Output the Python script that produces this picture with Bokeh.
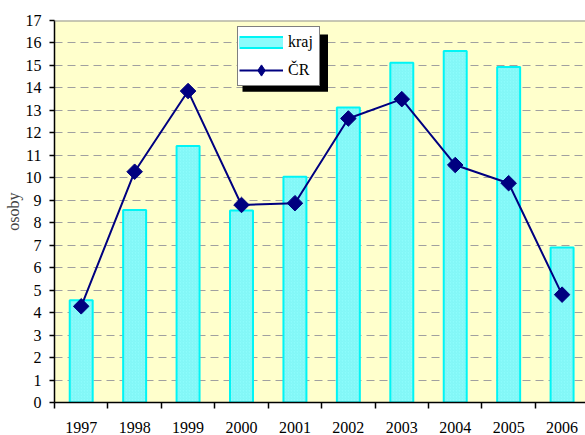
import numpy as np
from bokeh.plotting import figure
from bokeh.models import Range1d, FixedTicker, Span, Legend, LegendItem
from bokeh.embed import file_html
from bokeh.resources import INLINE

years = ["1997", "1998", "1999", "2000", "2001", "2002", "2003", "2004", "2005", "2006"]
kraj = [4.55, 8.57, 11.41, 8.55, 10.05, 13.13, 15.12, 15.64, 14.93, 6.90]
cr = [4.28, 10.27, 13.86, 8.79, 8.87, 12.64, 13.50, 10.57, 9.76, 4.80]
y_ticks = list(range(0, 18))

xs = [i + 0.5 for i in range(len(years))]

FONT = "Liberation Serif"
BAR_FILL = "#8CFCFC"
BAR_LINE = "#00F5F5"
NAVY = "#000080"

W, H = 585, 435
BL, BT, BB = 54, 20, 32
FW, FH = W - BL, H - BT - BB
XMAX = FW / 53.43

p = figure(width=W, height=H, output_backend="svg", toolbar_location=None,
           x_range=Range1d(0, XMAX), y_range=Range1d(0, 17),
           min_border_left=BL, min_border_right=0, min_border_top=BT, min_border_bottom=BB)
p.background_fill_color = "#FFFFCC"
p.border_fill_color = "white"
p.outline_line_color = None

bars = p.vbar(x=xs, top=kraj, width=0.43, bottom=0,
              fill_color=BAR_FILL, line_color=BAR_LINE, line_width=2,
              hatch_pattern="right_diagonal_line", hatch_color="#5FE3E3",
              hatch_scale=3, hatch_weight=0.6, hatch_alpha=0.5)
ln = p.line(xs, cr, line_color=NAVY, line_width=2)
mk = p.scatter(xs, cr, marker="square", angle=np.pi / 4, size=11,
               fill_color=NAVY, line_color=NAVY)

# legend-only proxies (hidden in the plot, drawn as legend swatches)
kraj_sw_outer = p.line(xs, kraj, line_color=BAR_LINE, line_width=13, line_cap="butt", visible=False)
kraj_sw_inner = p.line(xs, kraj, line_color=BAR_FILL, line_width=9, line_cap="butt", visible=False)
cr_sw_marker = p.scatter(xs, cr, marker="diamond", size=11, fill_color=NAVY,
                         line_color=NAVY, visible=False)

# grid
p.xgrid.grid_line_color = None
p.ygrid.ticker = FixedTicker(ticks=y_ticks[1:-1])
p.ygrid.grid_line_color = "#A0A0A0"
p.ygrid.grid_line_dash = "8 5"
p.ygrid.grid_line_width = 1
p.add_layout(Span(location=17, dimension="width", line_color="#909090", line_width=2))

# y axis
p.yaxis.ticker = FixedTicker(ticks=y_ticks)
p.yaxis.axis_label = "osoby"
p.yaxis.axis_label_text_font = FONT
p.yaxis.axis_label_text_font_style = "normal"
p.yaxis.axis_label_text_font_size = "16px"
p.yaxis.axis_label_standoff = 1
p.yaxis.major_label_text_font = FONT
p.yaxis.major_label_text_font_size = "16px"
p.yaxis.major_label_text_color = "black"
p.yaxis.major_label_standoff = 8
p.yaxis.major_tick_out = 5
p.yaxis.major_tick_in = 0
p.yaxis.minor_tick_line_color = None
p.yaxis.axis_line_color = "black"
p.yaxis.axis_line_width = 1.5
p.yaxis.major_tick_line_width = 1.5

# x axis
p.xaxis.ticker = FixedTicker(ticks=xs, minor_ticks=list(range(0, 11)))
p.xaxis.major_label_overrides = {x: y for x, y in zip(xs, years)}
p.xaxis.major_tick_line_color = None
p.xaxis.major_tick_out = 0
p.xaxis.major_tick_in = 0
p.xaxis.minor_tick_line_color = "black"
p.xaxis.minor_tick_out = 6
p.xaxis.minor_tick_in = 0
p.xaxis.minor_tick_line_width = 1.5
p.xaxis.major_label_text_font = FONT
p.xaxis.major_label_text_font_size = "16px"
p.xaxis.major_label_text_color = "black"
p.xaxis.major_label_standoff = 13
p.xaxis.axis_line_color = "black"
p.xaxis.axis_line_width = 1.5

# legend shadow (pixel geometry converted through the axis scales)
px_per_x = FW / XMAX
px_per_y = FH / 17
sh_l, sh_r, sh_t, sh_b = 188, 273.5, 14, 71.5   # px relative to frame left/top
p.quad(left=[sh_l / px_per_x], right=[sh_r / px_per_x],
       top=[17 - sh_t / px_per_y], bottom=[17 - sh_b / px_per_y],
       fill_color="black", line_color=None)

legend = Legend(items=[LegendItem(label="kraj", renderers=[kraj_sw_outer, kraj_sw_inner]),
                       LegendItem(label="ČR", renderers=[ln, cr_sw_marker])],
                location=(183, 316))
legend.label_text_font = FONT
legend.label_text_font_size = "16px"
legend.label_text_color = "black"
legend.glyph_width = 44
legend.glyph_height = 28
legend.label_height = 20
legend.label_width = 30
legend.label_standoff = 5
legend.padding = 1
legend.spacing = 0
legend.margin = 0
legend.border_line_color = "black"
legend.border_line_width = 1
legend.background_fill_color = "white"
legend.background_fill_alpha = 1
p.add_layout(legend)

open("out.html", "w").write(file_html(p, INLINE))
